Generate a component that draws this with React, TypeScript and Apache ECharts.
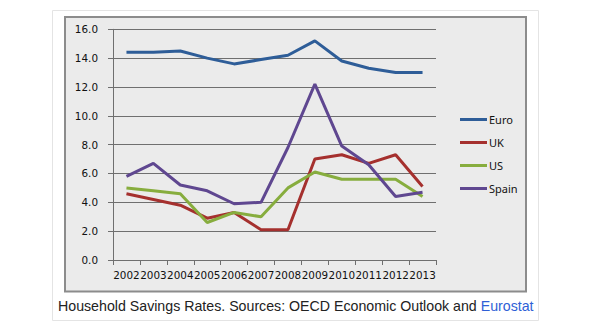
import React, { useEffect, useRef } from "react";
import * as echarts from "echarts";

const years = ["2002", "2003", "2004", "2005", "2006", "2007", "2008", "2009", "2010", "2011", "2012", "2013"];
const euro = [14.4, 14.4, 14.5, 14.0, 13.6, 13.9, 14.2, 15.2, 13.8, 13.3, 13.0, 13.0];
const uk = [4.6, 4.2, 3.8, 2.9, 3.3, 2.1, 2.1, 7.0, 7.3, 6.7, 7.3, 5.1];
const us = [5.0, 4.8, 4.6, 2.6, 3.3, 3.0, 5.0, 6.1, 5.6, 5.6, 5.6, 4.4];
const spain = [5.8, 6.7, 5.2, 4.8, 3.9, 4.0, 7.8, 12.2, 7.9, 6.6, 4.4, 4.7];
const seriesNames = ["Euro", "UK", "US", "Spain"];
const colors = ["#2e5d98", "#a5302e", "#87ad3e", "#5f4790"];

export default function App() {
  const ref = useRef<HTMLDivElement>(null);
  useEffect(() => {
    if (!ref.current) return;
    const chart = echarts.init(ref.current, undefined, { renderer: "svg" });
    const data = [euro, uk, us, spain];
    chart.setOption({
      animation: false,
      backgroundColor: "#ffffff",
      title: {
        left: 53,
        top: 294,
        text: "{a|Household Savings Rates. Sources: OECD Economic Outlook and }{b|Eurostat}",
        textStyle: {
          fontWeight: "normal",
          rich: {
            a: { fontFamily: "Liberation Sans", fontSize: 14.2, fontWeight: "normal", color: "#222222" },
            b: { fontFamily: "Liberation Sans", fontSize: 14.2, fontWeight: "normal", color: "#2f5fd6" },
          },
        },
      },
      graphic: [
        {
          type: "rect",
          z: -10,
          silent: true,
          shape: { x: 52.5, y: 10.5, width: 486, height: 310 },
          style: { fill: "#ffffff", stroke: "#e4e4e4", lineWidth: 1 },
        },
        {
          type: "rect",
          z: -9,
          silent: true,
          shape: { x: 65, y: 17, width: 461, height: 274.5 },
          style: { fill: "#ebebeb", stroke: "#8c8c8c", lineWidth: 2 },
        },
      ],
      legend: {
        orient: "vertical",
        left: 455,
        top: 109,
        itemGap: 12,
        itemWidth: 27,
        itemHeight: 14,
        icon: "path://M0,6L27,6L27,9L0,9Z",
        textStyle: { fontFamily: "Noto Sans", fontSize: 11, color: "#111111", padding: [0, 0, 0, -3] },
        data: seriesNames,
      },
      grid: { left: 113, right: 164, top: 29.3, bottom: 76 },
      xAxis: {
        type: "category",
        data: years,
        boundaryGap: true,
        axisLine: { lineStyle: { color: "#6f6f6f", width: 1 } },
        axisTick: { show: true, length: 5, lineStyle: { color: "#6f6f6f" } },
        axisLabel: { interval: 0, fontFamily: "DejaVu Sans", fontSize: 10.4, color: "#111111", margin: 10 },
      },
      yAxis: {
        type: "value",
        min: 0,
        max: 16,
        interval: 2,
        axisLine: { show: true, lineStyle: { color: "#6f6f6f", width: 1 } },
        axisTick: { show: true, length: 5, lineStyle: { color: "#6f6f6f" } },
        splitLine: { lineStyle: { color: "#6f6f6f", width: 1 } },
        axisLabel: {
          formatter: (v: number) => v.toFixed(1),
          fontFamily: "DejaVu Sans",
          fontSize: 10.4,
          color: "#111111",
          margin: 15,
        },
      },
      series: seriesNames.map((n, i) => ({
        name: n,
        type: "line",
        data: data[i],
        showSymbol: false,
        symbol: "none",
        color: colors[i],
        lineStyle: { width: 3, color: colors[i] },
      })),
    });
    return () => chart.dispose();
  }, []);
  return <div ref={ref} style={{ width: 600, height: 336, position: "absolute", left: 0, top: 0 }} />;
}
